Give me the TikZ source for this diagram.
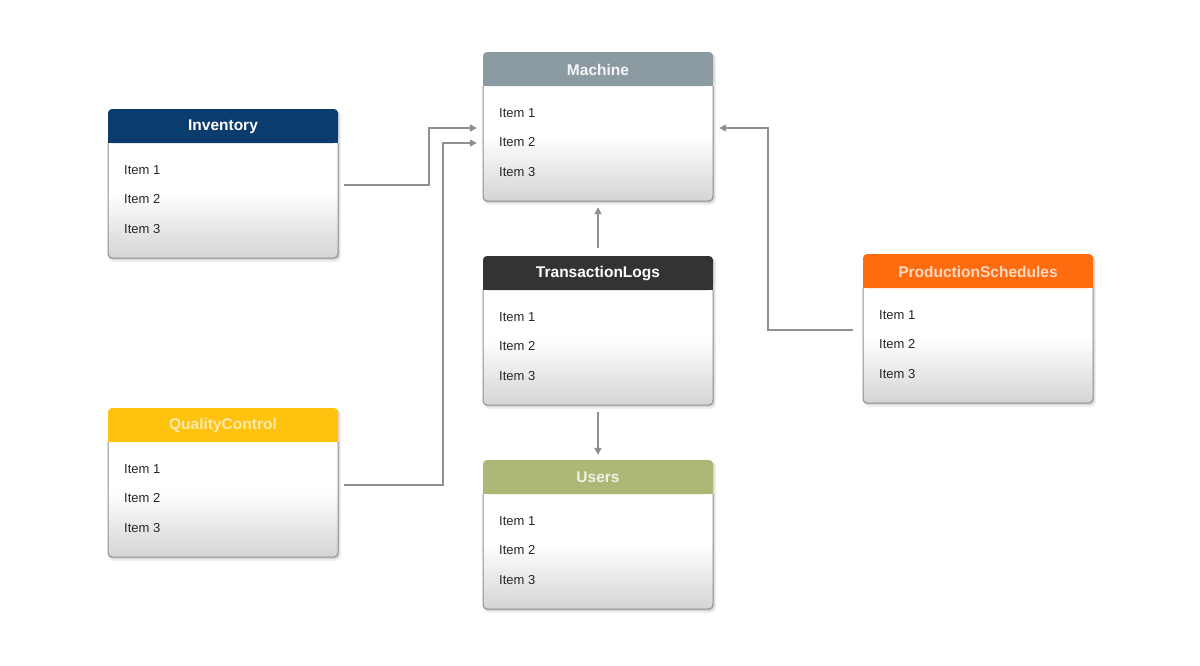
\documentclass[tikz,border=0pt]{standalone}
\usepackage{fontspec}
\setmainfont{Liberation Sans}
\usetikzlibrary{arrows.meta,calc}
\definecolor{bodybot}{HTML}{D4D4D4}
\definecolor{cMachine}{HTML}{8C9AA1}
\definecolor{cInv}{HTML}{0B3C6E}
\definecolor{cTL}{HTML}{333333}
\definecolor{cPS}{HTML}{FF6B0F}
\definecolor{cQC}{HTML}{FFC20E}
\definecolor{cUsers}{HTML}{AEB776}
\definecolor{conncol}{HTML}{8A9094}
\definecolor{bordercol}{HTML}{8E8E8E}
\pgfdeclareverticalshading{bodyshade}{100bp}{color(0bp)=(bodybot); color(25bp)=(bodybot); color(47bp)=(white); color(100bp)=(white)}
\tikzset{
  conn/.style={draw=conncol, line width=1.5pt, -{Triangle[length=7pt,width=7pt]}},
  titletext/.style={font=\fontsize{15.5}{18}\selectfont\bfseries, inner sep=0pt},
  itemtext/.style={font=\fontsize{13}{15}\selectfont, text=black!85, anchor=west, inner sep=0pt},
  boxframe/.style={inner sep=0pt, minimum width=230pt, minimum height=149pt},
}
\newcommand\entbox[6]{%
  \fill[black,opacity=.06,rounded corners=5] (#2+1,#3+2) rectangle (#2+233,#3+153);
  \fill[black,opacity=.10,rounded corners=4] (#2+0.5,#3+1) rectangle (#2+231.5,#3+151);
  \shade[shading=bodyshade,rounded corners=4] (#2,#3) rectangle (#2+230,#3+149);
  \fill[#4,rounded corners=4] (#2,#3) rectangle (#2+230,#3+34);
  \fill[#4] (#2,#3+20) rectangle (#2+230,#3+34);
  \draw[bordercol,line width=1pt,rounded corners=4] (#2,#3+34) -- (#2,#3+149) -- (#2+230,#3+149) -- (#2+230,#3+34);
  \node[boxframe] (#1) at (#2+115,#3+74.5) {};
  \node[titletext,text=#6] (#1-title) at (#2+115,#3+17.5) {#5};
  \node[itemtext] (#1-i1) at (#2+16,#3+61) {Item 1};
  \node[itemtext] (#1-i2) at (#2+16,#3+90) {Item 2};
  \node[itemtext] (#1-i3) at (#2+16,#3+120) {Item 3};
}
\begin{document}
\begin{tikzpicture}[x=1pt,y=-1pt]
\useasboundingbox[fill=white] (0,0) rectangle (1200,665);
\entbox{machine}{483}{52}{cMachine}{Machine}{white!92!cMachine}
\entbox{inventory}{108}{109}{cInv}{Inventory}{white}
\entbox{tlogs}{483}{256}{cTL}{TransactionLogs}{white}
\entbox{prod}{863}{254}{cPS}{ProductionSchedules}{white!75!cPS}
\entbox{qc}{108}{408}{cQC}{QualityControl}{white!65!cQC}
\entbox{users}{483}{460}{cUsers}{Users}{white!82!cUsers}
% connectors
\draw[conn] ([xshift=6pt,yshift=-1.5pt]inventory.east) -| ++(85,-57) -- ([xshift=-6pt,yshift=-1.5pt]machine.west);
\draw[conn] ([xshift=6pt,yshift=-2.5pt]qc.east) -| ($([xshift=-40pt,yshift=-16.5pt]machine.west)$) -- ([xshift=-6pt,yshift=-16.5pt]machine.west);
\draw[conn] ([xshift=-10pt,yshift=-1.5pt]prod.west) -| ($([xshift=55pt,yshift=-1.5pt]machine.east)$) -- ([xshift=6pt,yshift=-1.5pt]machine.east);
\draw[conn] ([yshift=8pt]tlogs.north) -- ([yshift=-6pt]machine.south);
\draw[conn] ([yshift=-7pt]tlogs.south) -- ([yshift=5pt]users.north);
\end{tikzpicture}
\end{document}
